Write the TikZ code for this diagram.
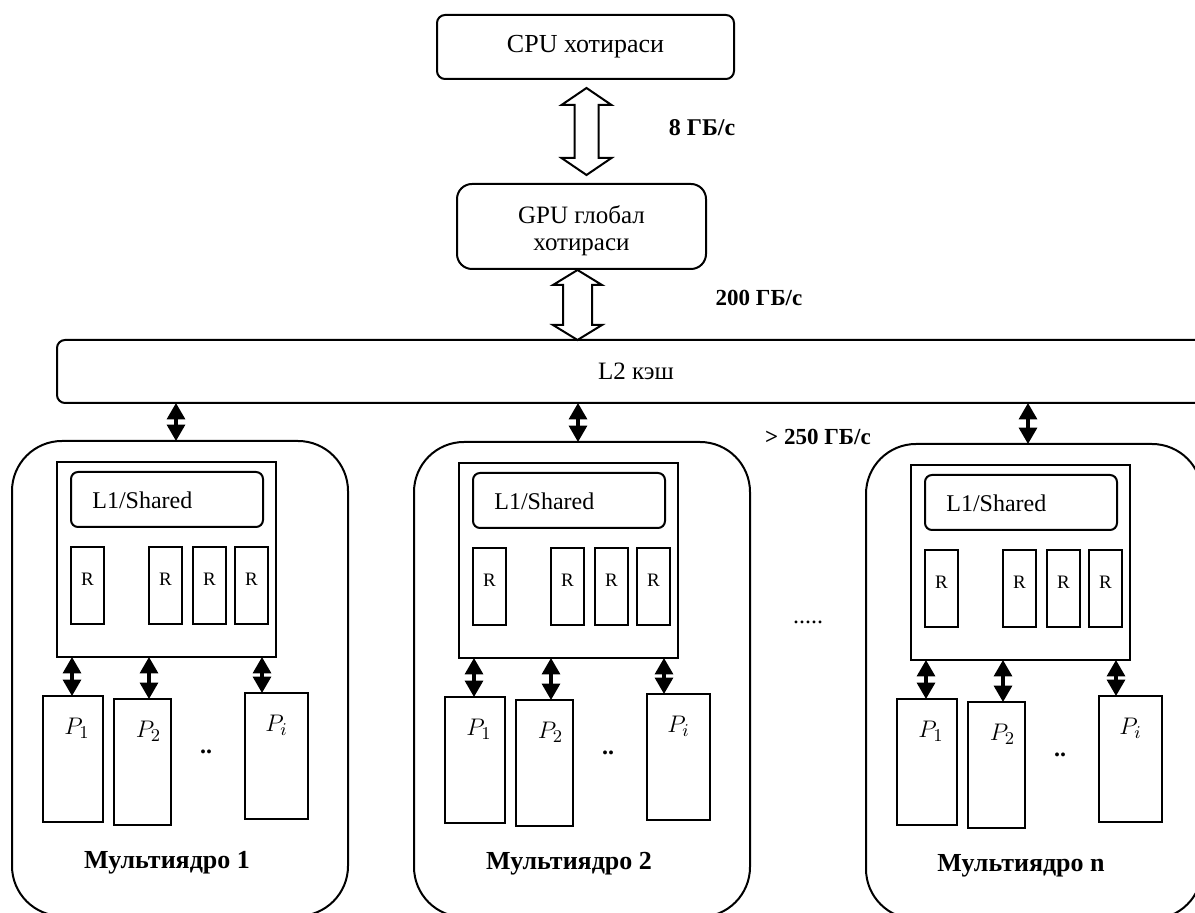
\documentclass[tikz,border=0pt]{standalone}
\usepackage{fontspec}
\setmainfont{Liberation Serif}
\usetikzlibrary{arrows.meta,calc}

\tikzset{
  box/.style={draw, line width=1pt, inner sep=0pt, outer sep=0pt},
  rbox/.style={box, minimum width=16.5pt, minimum height=38.5pt},
  pbox/.style={box, minimum height=63pt},
  rlab/.style={anchor=north, inner sep=0pt, yshift=-13pt, font=\fontsize{9.5}{10}\selectfont},
  plab/.style={anchor=north, inner sep=0pt, yshift=-11pt, font=\fontsize{13}{14}\selectfont},
  dbl/.style={line width=1.6pt, {Triangle[length=8.2pt,width=9pt]}-{Triangle[length=8.2pt,width=9pt]}},
  hollow/.style={draw, line width=1pt, line join=miter, fill=white},
  bw/.style={inner sep=0pt, font=\fontsize{12}{14}\selectfont\bfseries},
  lbl/.style={inner sep=0pt, font=\fontsize{12}{14}\selectfont},
}

\newcommand{\hollowarrow}[5]{%
  \draw[hollow] (#1) -- ($(#1)+(#3,#5)$) -- ($(#1)+(#4,#5)$) -- ($(#2)+(#4,-#5)$)
    -- ($(#2)+(#3,-#5)$) -- (#2) -- ($(#2)+(-#3,-#5)$) -- ($(#2)+(-#4,-#5)$)
    -- ($(#1)+(-#4,#5)$) -- ($(#1)+(-#3,#5)$) -- cycle;}

\newcommand{\multicore}[4]{%
\begin{scope}[shift={(#2,#3)}]
  \node[box, rounded corners=25pt, minimum width=168pt, minimum height=237.5pt] (#1) at (180,678.5) {};
  \node[box, minimum width=109.5pt, minimum height=97.5pt] (#1sm) at (166.5,559.5) {};
  \node[box, rounded corners=3.5pt, minimum width=96pt, minimum height=27.5pt] (#1l1) at (167,499.5) {};
  \node[lbl, anchor=west] (#1l1t) at (92,500) {L1/Shared};
  \node[rbox, label={[rlab]north:R}] (#1r1) at (87.5,585.5) {};
  \node[rbox, label={[rlab]north:R}] (#1r2) at (165.5,585.5) {};
  \node[rbox, label={[rlab]north:R}] (#1r3) at (209.5,585.5) {};
  \node[rbox, label={[rlab]north:R}] (#1r4) at (251.5,585.5) {};
  \node[pbox, minimum width=30pt, label={[plab,xshift=2pt]north:$P_1$}] (#1p1) at (73,759) {};
  \node[pbox, minimum width=28.5pt, label={[plab,xshift=3pt]north:$P_2$}] (#1p2) at (142.5,762) {};
  \node[pbox, minimum width=31.5pt, label={[plab]north:$P_i$}] (#1p3) at (276.5,756) {};
  \coordinate (#1a1) at (72,0);
  \coordinate (#1a2) at (149,0);
  \coordinate (#1a3) at (262,0);
  \draw[dbl] (#1a1 |- #1sm.south) -- (#1a1 |- #1p1.north);
  \draw[dbl] (#1a2 |- #1sm.south) -- (#1a2 |- #1p2.north);
  \draw[dbl] (#1a3 |- #1sm.south) -- (#1a3 |- #1p3.north);
  \node[bw] (#1dots) at (206,752) {..};
  \node[bw, font=\fontsize{13}{15}\selectfont\bfseries] (#1title) at (167,863) {#4};
\end{scope}}

\begin{document}
\begin{tikzpicture}[x=0.5pt, y=-0.5pt]
  \useasboundingbox (0,0) rectangle (1195,913);
  \fill[white] (0,0) rectangle (1195,913);
  \clip (0,0) rectangle (1195,913);

  \node[box, rounded corners=4pt, minimum width=148.5pt, minimum height=32pt,
        font=\fontsize{13}{15}\selectfont] (cpu) at (585.5,47) {CPU хотираси};
  \node[box, rounded corners=7.5pt, minimum width=124.5pt, minimum height=42.5pt,
        label={[align=center, yshift=-2pt, font=\fontsize{12.5}{13.5}\selectfont]center:GPU глобал\\хотираси}] (gpu) at (581.5,226.5) {};
  \node[box, rounded corners=4pt, minimum width=579pt, minimum height=31.5pt,
        font=\fontsize{12.5}{14}\selectfont] (l2) at (636,371.5) {L2 кэш};

  \coordinate (ha1) at ($(cpu.south)+(1,9)$);
  \coordinate (ha2) at ($(ha1 |- gpu.north)+(0,-9)$);
  \hollowarrow{ha1}{ha2}{25}{12}{17}
  \coordinate (hb1) at ($(gpu.south)+(-4,1)$);
  \coordinate (hb2) at (hb1 |- l2.north);
  \hollowarrow{hb1}{hb2}{24.5}{14.5}{15}

  \node[bw] (bw1) at (702,128) {8 ГБ/с};
  \node[bw, font=\fontsize{11.5}{14}\selectfont\bfseries] (bw2) at (759,298) {200 ГБ/с};
  \node[bw, font=\fontsize{11.5}{14}\selectfont\bfseries] (bw3) at (818,437) {> 250 ГБ/с};

  \multicore{c1}{0}{0}{Мультиядро 1}
  \multicore{c2}{402}{1}{Мультиядро 2}
  \multicore{c3}{854}{3}{Мультиядро n}

  \node[lbl] (more) at (808,622) {.....};

  \coordinate (c1t) at ($(c1.north)+(-4,0)$);
  \coordinate (c2t) at ($(c2.north)+(-4,0)$);
  \coordinate (c3t) at ($(c3.north)+(-6,0)$);
  \draw[dbl] (c1t |- l2.south) -- (c1t);
  \draw[dbl] (c2t |- l2.south) -- (c2t);
  \draw[dbl] (c3t |- l2.south) -- (c3t);
\end{tikzpicture}
\end{document}
